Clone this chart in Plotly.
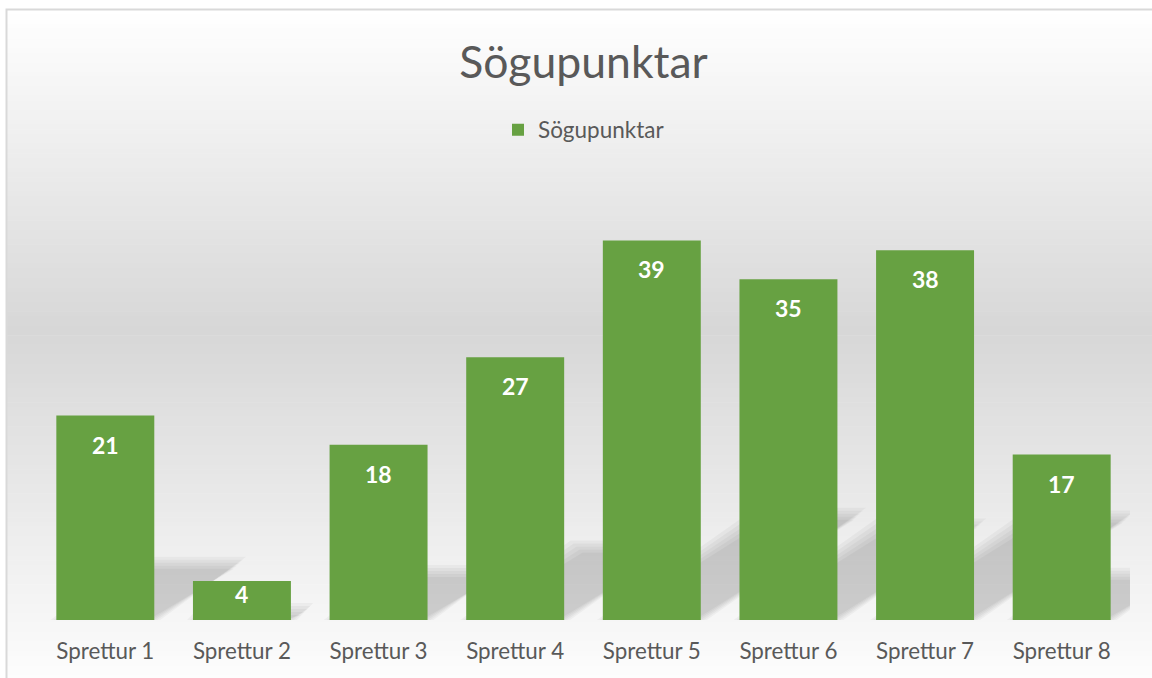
import plotly.graph_objects as go

categories = ["Sprettur 1", "Sprettur 2", "Sprettur 3", "Sprettur 4",
              "Sprettur 5", "Sprettur 6", "Sprettur 7", "Sprettur 8"]
values = [21, 4, 18, 27, 39, 35, 38, 17]
series_name = "Sögupunktar"
chart_title = "Sögupunktar"

W, H = 1152, 678
ML, MR, MT, MB = 37, 22, 182, 58
YMAX = 45
plot_h = H - MT - MB
plot_w = W - ML - MR
px_per_unit = plot_h / YMAX
px_per_cat = plot_w / len(categories)
BAR_FRAC = 0.717
FONT = "Lato, Carlito, Calibri, sans-serif"
GREY_TXT = "#595959"

xs = list(range(len(categories)))

fig = go.Figure()
fig.add_trace(go.Bar(
    x=xs, y=values, name=series_name,
    marker=dict(color="#67a142", line=dict(width=0)),
    width=BAR_FRAC, showlegend=True, hoverinfo="skip",
))

shapes = []
def py2paper(py):
    return (H - MB - py) / plot_h
def px2paper(px):
    return (px - ML) / plot_w

# chart-area background gradient
stops = [(9.5, 255), (330, 215), (700, 255)]
def grey_at(y):
    for (y0, g0), (y1, g1) in zip(stops[:-1], stops[1:]):
        if y0 <= y <= y1:
            return g0 + (g1 - g0) * (y - y0) / (y1 - y0)
    return 255
N = 140
top, bot = 9.5, H + 2
step = (bot - top) / N
for k in range(N):
    y0 = top + k * step
    y1 = y0 + step + 0.6
    g = round(grey_at(y0 + step / 2))
    shapes.append(dict(type="rect", xref="paper", yref="paper",
                       x0=px2paper(6.5), x1=px2paper(W + 5),
                       y0=py2paper(y1), y1=py2paper(y0),
                       fillcolor=f"rgb({g},{g},{g})", line=dict(width=0),
                       layer="below"))
# chart-area border
shapes.append(dict(type="rect", xref="paper", yref="paper",
                   x0=px2paper(6.5), x1=px2paper(W + 5),
                   y0=py2paper(H + 5), y1=py2paper(9.5),
                   fillcolor="rgba(0,0,0,0)", line=dict(color="#d9d9d9", width=2),
                   layer="below"))
# soft perspective shadows behind bars (derived from values)
hw = BAR_FRAC / 2
for i, v in zip(xs, values):
    ty = 0.28 * v
    sh = 0.42 * v * px_per_unit / px_per_cat
    for d in [-6, -3, 0, 3, 6]:
        dx = d / px_per_cat
        dy = d / px_per_unit
        path = (f"M{i - hw - dx},{0} L{i + hw + dx},{0} "
                f"L{i + hw + sh + dx},{ty + dy} L{i - hw + sh - dx},{ty + dy} Z")
        shapes.append(dict(type="path", xref="x", yref="y", path=path,
                           fillcolor="rgba(0,0,0,0.036)",
                           line=dict(width=0), layer="below"))

annotations = []
for i, v in zip(xs, values):
    shift = min(29, 0.33 * v * px_per_unit)
    annotations.append(dict(x=i, y=v, xref="x", yref="y", text=f"<b>{v}</b>",
                            showarrow=False, yanchor="middle", yshift=-shift,
                            font=dict(family=FONT, size=23, color="white")))

fig.update_layout(
    width=W, height=H,
    margin=dict(l=ML, r=MR, t=MT, b=MB),
    paper_bgcolor="white",
    plot_bgcolor="rgba(0,0,0,0)",
    title=dict(text=chart_title, x=0.5, xref="paper", xanchor="center",
               y=1 - 62 / H, yref="container", yanchor="middle",
               font=dict(family=FONT, size=44.5, color=GREY_TXT)),
    showlegend=True,
    legend=dict(orientation="h", x=px2paper(584), xanchor="center",
                y=py2paper(130), yanchor="middle",
                font=dict(family=FONT, size=22.5, color=GREY_TXT),
                bgcolor="rgba(0,0,0,0)", itemwidth=30),
    xaxis=dict(range=[-0.5, len(categories) - 0.5], tickvals=xs,
               ticktext=categories, showgrid=False, zeroline=False,
               showline=False, ticks="", ticklabelstandoff=16,
               tickfont=dict(family=FONT, size=22.4, color=GREY_TXT),
               fixedrange=True),
    yaxis=dict(range=[0, YMAX], visible=False, showgrid=False,
               zeroline=False, fixedrange=True),
    shapes=shapes,
    annotations=annotations,
    bargap=1 - BAR_FRAC,
)

fig.write_html("out.html")
